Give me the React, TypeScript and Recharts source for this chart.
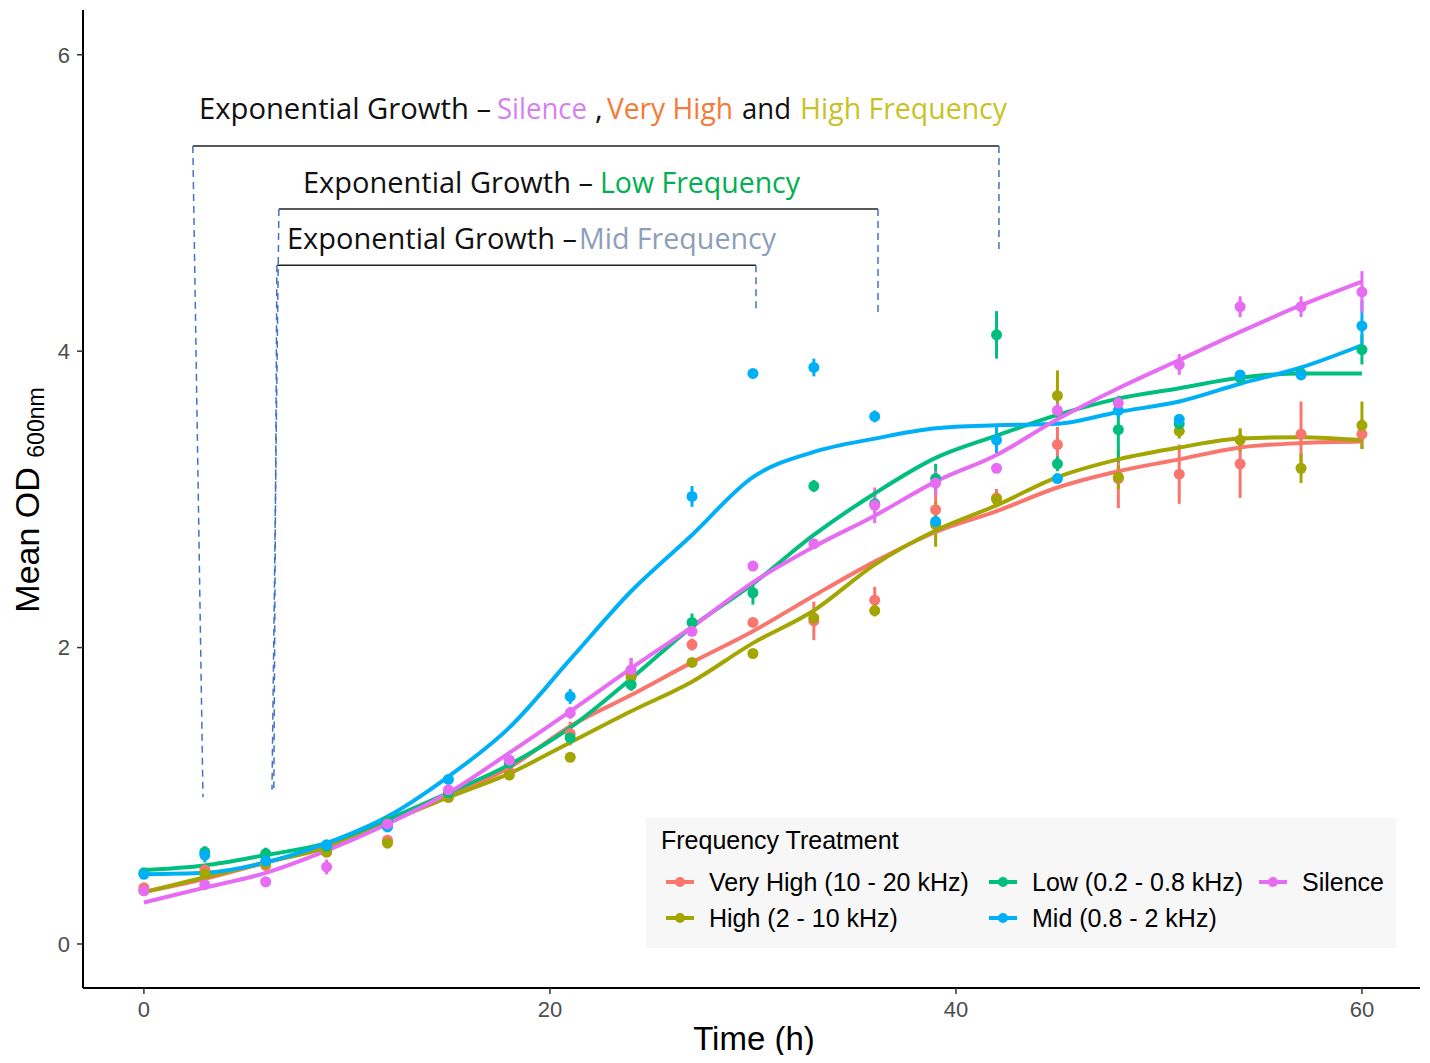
import React from "react"
import {
  ComposedChart,
  Line,
  XAxis,
  YAxis,
  ErrorBar,
  ReferenceLine,
  Legend,
} from "recharts"

const times = [0, 3, 6, 9, 12, 15, 18, 21, 24, 27, 30, 33, 36, 39, 42, 45, 48, 51, 54, 57, 60]

// mean OD per treatment
const veryHigh = [0.38, 0.5, 0.53, 0.62, 0.7, 0.99, 1.16, 1.42, 1.82, 2.02, 2.17, 2.18, 2.32, 2.93, 3.01, 3.37, 3.14, 3.17, 3.24, 3.44, 3.44]
const high = [0.36, 0.47, 0.54, 0.62, 0.68, 0.99, 1.14, 1.26, 1.8, 1.9, 1.96, 2.2, 2.25, 2.83, 3.0, 3.7, 3.15, 3.46, 3.4, 3.21, 3.5]
const low = [0.48, 0.62, 0.61, 0.66, 0.83, 1.02, 1.22, 1.39, 1.75, 2.17, 2.37, 3.09, 2.97, 3.14, 4.11, 3.24, 3.47, 3.51, 3.82, 3.85, 4.01]
const mid = [0.47, 0.6, 0.56, 0.67, 0.79, 1.11, 1.24, 1.67, null, 3.02, 3.85, 3.89, 3.56, 2.85, 3.4, 3.14, 3.6, 3.54, 3.84, 3.84, 4.17]
const silence = [0.36, 0.4, 0.42, 0.52, 0.81, 1.04, 1.24, 1.56, 1.85, 2.11, 2.55, 2.7, 2.96, 3.11, 3.21, 3.6, 3.65, 3.91, 4.3, 4.3, 4.4]

// standard errors
const veryHighErr = [0.02, 0.03, 0.02, 0.02, 0.03, 0.02, 0.03, 0.08, 0.11, 0.04, 0.03, 0.13, 0.09, 0.2, 0.06, 0.12, 0.2, 0.2, 0.23, 0.22, 0.1]
const highErr = [0.02, 0.02, 0.02, 0.02, 0.03, 0.02, 0.02, 0.03, 0.03, 0.03, 0.03, 0.05, 0.04, 0.15, 0.05, 0.17, 0.08, 0.05, 0.08, 0.1, 0.16]
const lowErr = [0.02, 0.04, 0.04, 0.02, 0.02, 0.02, 0.02, 0.03, 0.04, 0.06, 0.08, 0.04, 0.06, 0.1, 0.16, 0.05, 0.22, 0.05, 0.04, 0.03, 0.1]
const midErr = [0.03, 0.05, 0.03, 0.02, 0.03, 0.03, 0.03, 0.05, 0, 0.07, 0.02, 0.06, 0.04, 0.04, 0.09, 0.02, 0.05, 0.03, 0.03, 0.03, 0.17]
const silenceErr = [0.02, 0.03, 0.02, 0.05, 0.02, 0.03, 0.03, 0.04, 0.08, 0.03, 0.03, 0.03, 0.12, 0.08, 0.03, 0.05, 0.05, 0.07, 0.07, 0.07, 0.14]

// smoothed fits (loess), read at the same times
const veryHighFit = [0.35, 0.44, 0.55, 0.66, 0.83, 1.0, 1.19, 1.47, 1.68, 1.9, 2.11, 2.35, 2.58, 2.78, 2.92, 3.08, 3.19, 3.27, 3.35, 3.38, 3.39]
const highFit = [0.35, 0.45, 0.55, 0.65, 0.82, 0.99, 1.15, 1.36, 1.57, 1.77, 2.03, 2.25, 2.56, 2.79, 2.96, 3.15, 3.27, 3.35, 3.41, 3.42, 3.4]
const lowFit = [0.5, 0.53, 0.6, 0.68, 0.84, 1.02, 1.21, 1.46, 1.79, 2.14, 2.43, 2.76, 3.04, 3.28, 3.43, 3.57, 3.68, 3.75, 3.82, 3.85, 3.85]
const midFit = [0.47, 0.48, 0.55, 0.68, 0.86, 1.13, 1.46, 1.92, 2.38, 2.76, 3.15, 3.32, 3.41, 3.48, 3.5, 3.51, 3.59, 3.66, 3.78, 3.89, 4.04]
const silenceFit = [0.28, 0.38, 0.48, 0.63, 0.81, 1.02, 1.29, 1.57, 1.86, 2.14, 2.44, 2.68, 2.89, 3.12, 3.3, 3.54, 3.75, 3.94, 4.13, 4.31, 4.47]

const xTicks = [0, 20, 40, 60]
const yTicks = [0, 2, 4, 6]

const series = [
  { key: "vh", name: "Very High (10 - 20 kHz)", color: "#F8766D", mean: veryHigh, err: veryHighErr, fit: veryHighFit },
  { key: "hi", name: "High (2 - 10 kHz)", color: "#A3A500", mean: high, err: highErr, fit: highFit },
  { key: "lo", name: "Low (0.2 - 0.8 kHz)", color: "#00BF7D", mean: low, err: lowErr, fit: lowFit },
  { key: "md", name: "Mid (0.8 - 2 kHz)", color: "#00B0F6", mean: mid, err: midErr, fit: midFit },
  { key: "si", name: "Silence", color: "#E76BF3", mean: silence, err: silenceErr, fit: silenceFit },
]

const data = times.map((t, i) => {
  const row: Record<string, number | null> = { t }
  series.forEach((s) => {
    row[s.key] = s.mean[i]
    row[s.key + "Err"] = s.err[i]
    row[s.key + "Fit"] = s.fit[i]
  })
  return row
})

// exponential-phase brackets, in data units
const brackets = [
  { x1: 2.41, x2: 42.12, y: 5.385, leftEnd: { x: 2.91, y: 0.99 }, rightEnd: 4.66 },
  { x1: 6.65, x2: 36.16, y: 4.96, leftEnd: { x: 6.31, y: 1.04 }, rightEnd: 4.26 },
  { x1: 6.55, x2: 30.15, y: 4.58, leftEnd: { x: 6.4, y: 1.04 }, rightEnd: 4.26 },
]

// annotation pieces: text, colour, left x, width, baseline
const notes = [
  { text: "Exponential Growth –", color: "#111", x: 199, w: 292, y: 119 },
  { text: "Silence", color: "#D77FF0", x: 497, w: 90, y: 119 },
  { text: ",", color: "#111", x: 595, w: 0, y: 119 },
  { text: "Very High", color: "#F47A38", x: 607, w: 126, y: 119 },
  { text: "and", color: "#111", x: 742, w: 49, y: 119 },
  { text: "High Frequency", color: "#C9C226", x: 800, w: 207, y: 119 },
  { text: "Exponential Growth –", color: "#111", x: 303, w: 290, y: 193 },
  { text: "Low Frequency", color: "#00B050", x: 600, w: 200, y: 193 },
  { text: "Exponential Growth –", color: "#111", x: 287, w: 290, y: 249 },
  { text: "Mid Frequency", color: "#8C9EBA", x: 579, w: 197, y: 249 },
]

const axisFont = "'Liberation Sans', Arial, sans-serif"
const noteFont = "'Open Sans', 'DejaVu Sans', sans-serif"

function LegendBox() {
  const cols = [
    { x: 19, items: [series[0], series[1]] },
    { x: 342, items: [series[2], series[3]] },
    { x: 612, items: [series[4]] },
  ]
  return (
    <div
      style={{
        width: 750,
        height: 130,
        background: "#F7F7F7",
        position: "relative",
        fontFamily: axisFont,
        color: "#000",
      }}
    >
      <div style={{ position: "absolute", left: 15, top: 8, fontSize: 25 }}>Frequency Treatment</div>
      {cols.map((c) =>
        c.items.map((s, r) => (
          <div
            key={s.key}
            style={{
              position: "absolute",
              left: c.x,
              top: 50 + r * 36,
              height: 28,
              display: "flex",
              alignItems: "center",
              fontSize: 25,
              whiteSpace: "nowrap",
            }}
          >
            <svg width={30} height={28} style={{ marginRight: 14 }}>
              <line x1={1} x2={29} y1={14} y2={14} stroke={s.color} strokeWidth={4} />
              <circle cx={15} cy={14} r={5} fill={s.color} />
            </svg>
            {s.name}
          </div>
        ))
      )}
    </div>
  )
}

function Notes() {
  return (
    <svg
      width={1430}
      height={1063}
      style={{ position: "absolute", left: 0, top: 0, pointerEvents: "none" }}
    >
      {notes.map((n, i) => (
        <text
          key={i}
          x={n.x}
          y={n.y}
          fill={n.color}
          fontSize={30}
          fontFamily={noteFont}
          textLength={n.w > 0 ? n.w : undefined}
          lengthAdjust="spacingAndGlyphs"
        >
          {n.text}
        </text>
      ))}
      <text
        transform="translate(39, 500) rotate(-90)"
        textAnchor="middle"
        fontFamily={axisFont}
        fill="#000"
      >
        <tspan fontSize={34}>Mean OD </tspan>
        <tspan fontSize={23} dy={5}>600nm</tspan>
      </text>
      <text x={754} y={1050} textAnchor="middle" fontSize={33} fontFamily={axisFont} fill="#000">
        Time (h)
      </text>
    </svg>
  )
}

export default function App() {
  return (
    <div style={{ position: "relative", width: 1430, height: 1063, margin: -8, background: "#fff" }}>
      <ComposedChart
        width={1430}
        height={1063}
        data={data}
        margin={{ top: 10, right: 10, bottom: 0, left: 0 }}
      >
        <XAxis
          dataKey="t"
          type="number"
          domain={[-3, 62.86]}
          ticks={xTicks}
          allowDataOverflow
          height={75}
          axisLine={{ stroke: "#000", strokeWidth: 2 }}
          tickLine={{ stroke: "#333", strokeWidth: 1.5 }}
          tickSize={6}
          tickMargin={7}
          tick={{ fill: "#4D4D4D", fontSize: 22, fontFamily: axisFont }}
        />
        <YAxis
          type="number"
          domain={[-0.297, 6.302]}
          ticks={yTicks}
          allowDataOverflow
          width={83}
          axisLine={{ stroke: "#000", strokeWidth: 2 }}
          tickLine={{ stroke: "#333", strokeWidth: 1.5 }}
          tickSize={6}
          tickMargin={7}
          tick={{ fill: "#4D4D4D", fontSize: 22, fontFamily: axisFont }}
        />
        {brackets.map((b, i) => (
          <ReferenceLine
            key={"h" + i}
            segment={[{ x: b.x1, y: b.y }, { x: b.x2, y: b.y }]}
            stroke="#222"
            strokeWidth={1.5}
          />
        ))}
        {brackets.map((b, i) => (
          <ReferenceLine
            key={"l" + i}
            segment={[{ x: b.x1, y: b.y }, b.leftEnd]}
            stroke="#4472C4"
            strokeWidth={1.5}
            strokeDasharray="7 5"
          />
        ))}
        {brackets.map((b, i) => (
          <ReferenceLine
            key={"r" + i}
            segment={[{ x: b.x2, y: b.y }, { x: b.x2, y: b.rightEnd }]}
            stroke="#4472C4"
            strokeWidth={1.5}
            strokeDasharray="7 5"
          />
        ))}
        {series.map((s) => (
          <Line
            key={s.key + "pts"}
            dataKey={s.key}
            name={s.name}
            stroke="none"
            legendType="none"
            dot={{ r: 5.5, fill: s.color, stroke: "none" }}
            activeDot={false}
            isAnimationActive={false}
          >
            <ErrorBar dataKey={s.key + "Err"} direction="y" width={0} stroke={s.color} strokeWidth={3} />
          </Line>
        ))}
        {series.map((s) => (
          <Line
            key={s.key + "fit"}
            dataKey={s.key + "Fit"}
            name={s.name}
            type="monotone"
            stroke={s.color}
            strokeWidth={4}
            dot={false}
            activeDot={false}
            isAnimationActive={false}
          />
        ))}
        <Legend
          layout="vertical"
          verticalAlign="middle"
          align="center"
          content={() => <LegendBox />}
          wrapperStyle={{ position: "absolute", left: 646, top: 818, width: 750, height: 130 }}
        />
      </ComposedChart>
      <Notes />
    </div>
  )
}
